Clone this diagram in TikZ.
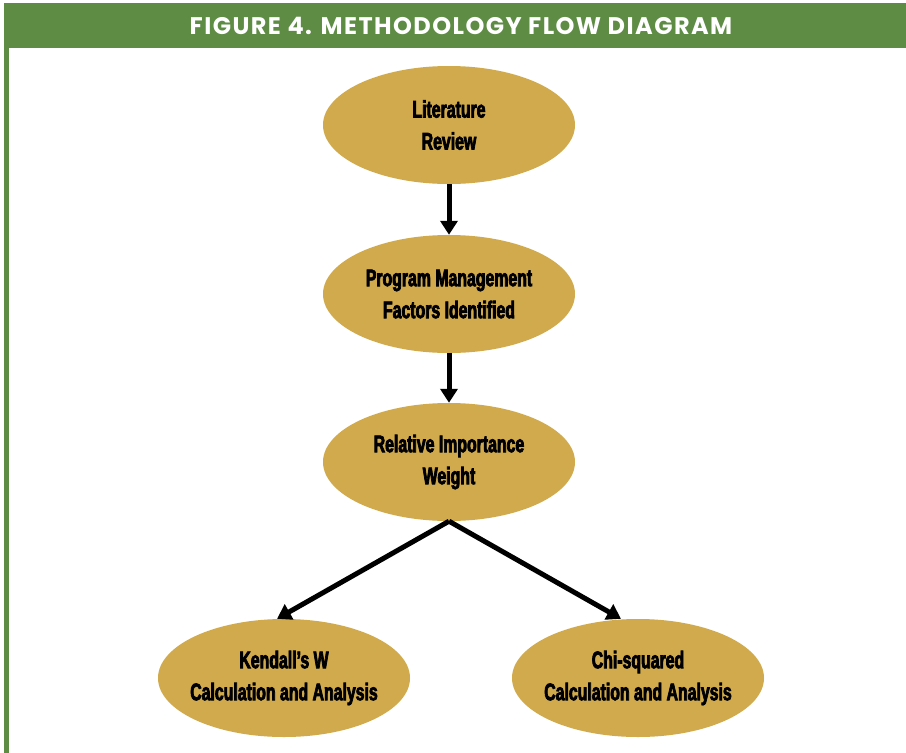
\documentclass[tikz,border=0pt]{standalone}
\usepackage{fontspec}
\usetikzlibrary{shapes.geometric,arrows.meta}
\newfontfamily\condfont[FakeStretch=0.66,FakeBold=3]{Liberation Sans Bold}
\newfontfamily\titlefont[LetterSpace=6]{Poppins}
\definecolor{hdrgreen}{HTML}{5E8C44}
\definecolor{gold}{HTML}{D0AA4C}
\begin{document}
\begin{tikzpicture}[x=1pt,y=-1pt,
  oval/.style={ellipse,fill=gold,minimum width=252pt,minimum height=118pt,inner xsep=-20pt,inner ysep=0pt,
    align=center,font=\condfont\fontsize{24}{32}\selectfont,text=black},
  flow/.style={line width=5pt,-{Triangle[length=14pt,width=17pt]}}]
\useasboundingbox (0,0) rectangle (906,753);
\fill[white] (0,0) rectangle (906,753);
\fill[hdrgreen] (4,3) rectangle (906,48);
\fill[hdrgreen] (4,48) rectangle (9,753);
\node[text=white,font=\titlefont\bfseries\fontsize{24}{28}\selectfont] (title) at (461,26) {FIGURE 4. METHODOLOGY FLOW DIAGRAM};
\node[oval] (lit) at (449,125) {Literature\\Review};
\node[oval] (pm) at (449,294) {Program Management\\Factors Identified};
\node[oval] (riw) at (449,462) {Relative Importance\\Weight};
\node[oval] (ken) at (284,678) {Kendall’s W\\Calculation and Analysis};
\node[oval] (chi) at (638,678) {Chi-squared\\Calculation and Analysis};
\draw[flow] (lit) -- (pm);
\draw[flow] (pm) -- (riw);
\draw[flow] (riw.south) -- ([xshift=-7pt]ken.north);
\draw[flow] (riw.south) -- ([xshift=-17pt]chi.north);
\end{tikzpicture}
\end{document}
